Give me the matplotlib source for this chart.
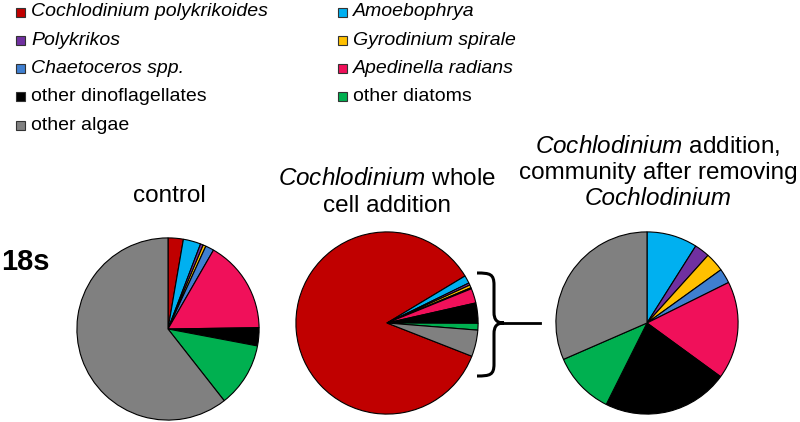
import matplotlib.pyplot as plt
from matplotlib.path import Path
from matplotlib.patches import PathPatch

plt.rcParams['font.family'] = ['Liberation Sans', 'DejaVu Sans']
plt.rcParams['mathtext.fontset'] = 'custom'
plt.rcParams['mathtext.rm'] = 'Liberation Sans'
plt.rcParams['mathtext.it'] = 'Liberation Sans:italic'

taxa = ["Cochlodinium polykrikoides", "Amoebophrya", "Polykrikos", "Gyrodinium spirale",
        "Chaetoceros spp.", "Apedinella radians", "other dinoflagellates", "other diatoms",
        "other algae"]
italic = [True, True, True, True, True, True, False, False, False]
colors = ["#C00000", "#00B0F0", "#7030A0", "#FFC000", "#3F7FD0", "#F0105A",
          "#000000", "#00B050", "#808080"]

control = [2.7, 3.1, 0.5, 0.5, 1.5, 16.4, 3.2, 11.4, 60.4]
whole_cell = [85.6, 1.4, 0.4, 0.5, 0.2, 2.6, 3.6, 1.2, 4.7]
removed = [0.0, 9.0, 2.7, 3.4, 2.6, 17.4, 22.4, 11.1, 31.6]

W, H = 800, 422
fig = plt.figure(figsize=(W / 100, H / 100), dpi=100)

def px_axes(cx, cy, r):
    return fig.add_axes([(cx - r) / W, (H - cy - r) / H, 2 * r / W, 2 * r / H])

def draw_pie(cx, cy, vals, start):
    ax = px_axes(cx, cy, 92)
    ax.pie(vals, colors=colors, startangle=start, counterclock=False,
           wedgeprops=dict(edgecolor="black", linewidth=0.8))
    ax.set_xlim(-1.01, 1.01)
    ax.set_ylim(-1.01, 1.01)
    ax.set_axis_off()

draw_pie(168, 329, control, 90)
draw_pie(387, 323, whole_cell, 90 - 111.4)
draw_pie(647, 323, removed, 90)

# overlay in pixel coordinates for text and brace
ov = fig.add_axes([0, 0, 1, 1])
ov.set_xlim(0, W)
ov.set_ylim(H, 0)
ov.set_axis_off()

# legend, two columns
fs = 14
for i, name in enumerate(taxa):
    col, row = i % 2, i // 2
    x = 20 if col == 0 else 342
    y = 12 + row * 28.3
    ov.add_patch(plt.Rectangle((x - 4.5, y - 4.5), 9, 9, facecolor=colors[i],
                               edgecolor="#333333", linewidth=0.8))
    ov.text(x + 11, y, name, fontsize=fs, va="center", ha="left",
            style="italic" if italic[i] else "normal")

# titles
tfs = 17.5
ov.text(169, 202, "control", fontsize=tfs, ha="center", va="baseline")
ov.text(387, 185, r"$\mathit{Cochlodinium}$" + " whole", fontsize=tfs, ha="center", va="baseline")
ov.text(387, 212, "cell addition", fontsize=tfs, ha="center", va="baseline")
ov.text(658, 153, r"$\mathit{Cochlodinium}$" + " addition,", fontsize=tfs, ha="center", va="baseline")
ov.text(658, 179, "community after removing", fontsize=tfs, ha="center", va="baseline")
ov.text(658, 205, "Cochlodinium", fontsize=tfs, ha="center", va="baseline", style="italic")
ov.text(1, 270, "18s", fontsize=21, fontweight="bold", ha="left", va="baseline")

# brace linking the minor slices to the right-hand pie
verts = [(477, 273), (490, 273), (494, 274), (494, 285),
         (494, 312),
         (494, 320), (497, 323), (504, 323),
         (497, 323), (494, 326), (494, 334),
         (494, 364),
         (494, 375), (490, 376), (477, 376)]
codes = [Path.MOVETO, Path.CURVE4, Path.CURVE4, Path.CURVE4,
         Path.LINETO,
         Path.CURVE4, Path.CURVE4, Path.CURVE4,
         Path.CURVE4, Path.CURVE4, Path.CURVE4,
         Path.LINETO,
         Path.CURVE4, Path.CURVE4, Path.CURVE4]
ov.add_patch(PathPatch(Path(verts, codes), facecolor="none", edgecolor="black", linewidth=2.2))
ov.plot([504, 540], [323, 323], color="black", linewidth=2)

fig.savefig("out.png", dpi=100)
